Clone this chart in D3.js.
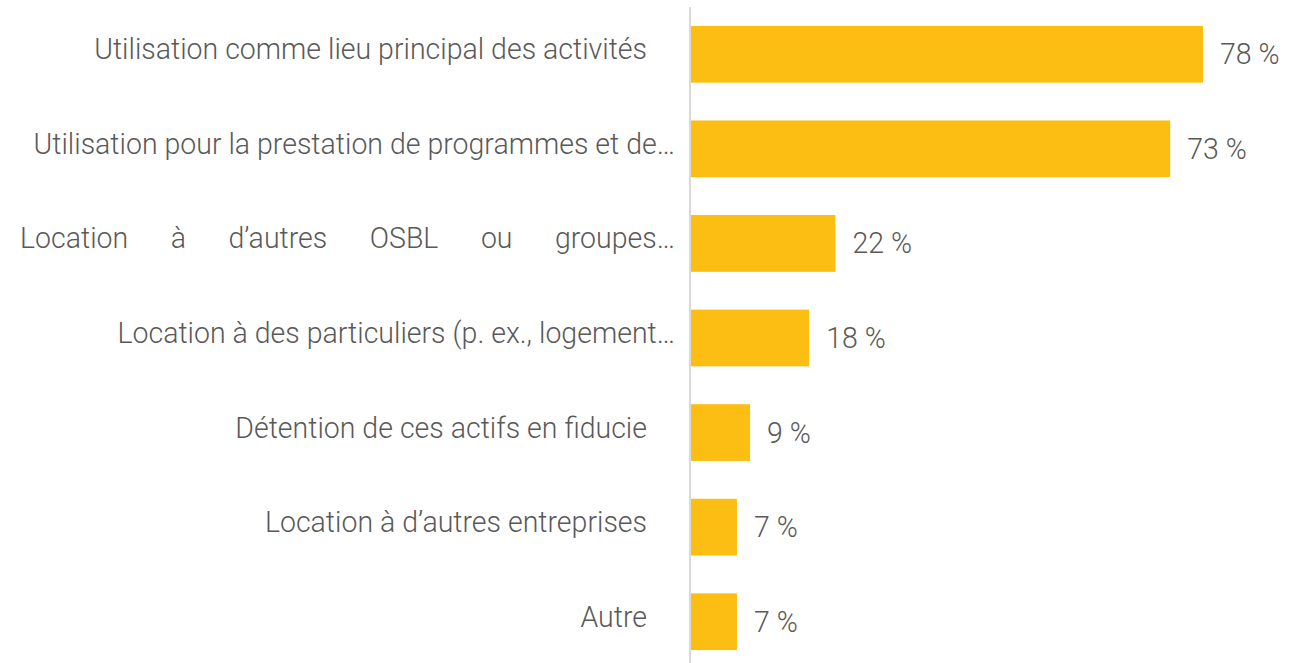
<!DOCTYPE html>
<html>
<head>
<meta charset="utf-8">
<script src="https://d3js.org/d3.v7.min.js"></script>
<style>
  body { margin: 0; background: #fff; }
  text { font-family: Roboto, "Liberation Sans", sans-serif; font-weight: 300; fill: #595959; }
</style>
</head>
<body>
<script>
// categories (top to bottom) and their shares in %
var categories = [
  "Utilisation comme lieu principal des activités",
  "Utilisation pour la prestation de programmes et de…",
  "Location à d’autres OSBL ou groupes…",
  "Location à des particuliers (p. ex., logement…",
  "Détention de ces actifs en fiducie",
  "Location à d’autres entreprises",
  "Autre"
];
var values = [78, 73, 22, 18, 9, 7, 7];
var justified = [false, false, true, false, false, false, false];

var width = 1309, height = 663;
var x0 = 691, fontSize = 30;

var svg = d3.select("body").append("svg")
  .attr("width", width).attr("height", height);

var x = d3.scaleLinear().domain([0, 78]).range([x0, 1203]);
var y = d3.scaleBand().domain(categories).range([7, 669])
  .paddingInner(0.4).paddingOuter(0.2);

// axis line
svg.append("line")
  .attr("x1", x0 - 1).attr("x2", x0 - 1)
  .attr("y1", 7).attr("y2", height)
  .attr("stroke", "#d9d9d9").attr("stroke-width", 2);

svg.selectAll("rect.bar")
  .data(categories)
  .enter().append("rect")
  .attr("class", "bar")
  .attr("x", x(0))
  .attr("y", function(d) { return y(d); })
  .attr("width", function(d, i) { return x(values[i]) - x(0); })
  .attr("height", y.bandwidth())
  .attr("fill", "#fcbe12");

// measure a horizontal squeeze so the font looks like the narrow original
var probe = svg.append("text").attr("font-size", fontSize).text(categories[0]);
var squeeze = 553 / probe.node().getComputedTextLength();
probe.remove();

function label(xr, yb, str, anchor) {
  var g = svg.append("g").attr("transform", "translate(" + xr + "," + yb + ") scale(" + squeeze + ",1)");
  return g.append("text").attr("font-size", fontSize).attr("text-anchor", anchor).text(str);
}

categories.forEach(function(c, i) {
  var cy = y(c) + y.bandwidth() / 2;
  var truncated = c.slice(-1) === "…";
  var right = truncated ? 675 : 647;
  if (justified[i]) {
    // spread words over the full label area
    var words = c.split(" ");
    var ws = words.map(function(w) {
      var t = svg.append("text").attr("font-size", fontSize).text(w);
      var l = t.node().getComputedTextLength() * squeeze;
      t.remove();
      return l;
    });
    var left = 20, total = d3.sum(ws);
    var gap = (right - left - total) / (words.length - 1);
    var pos = left;
    words.forEach(function(w, k) {
      label(pos, cy + 5, w, "start");
      pos += ws[k] + gap;
    });
  } else {
    label(right, cy + 5, c, "end");
  }
  label(x(values[i]) + 17, cy + 10, values[i] + " %", "start");
});
</script>
</body>
</html>
